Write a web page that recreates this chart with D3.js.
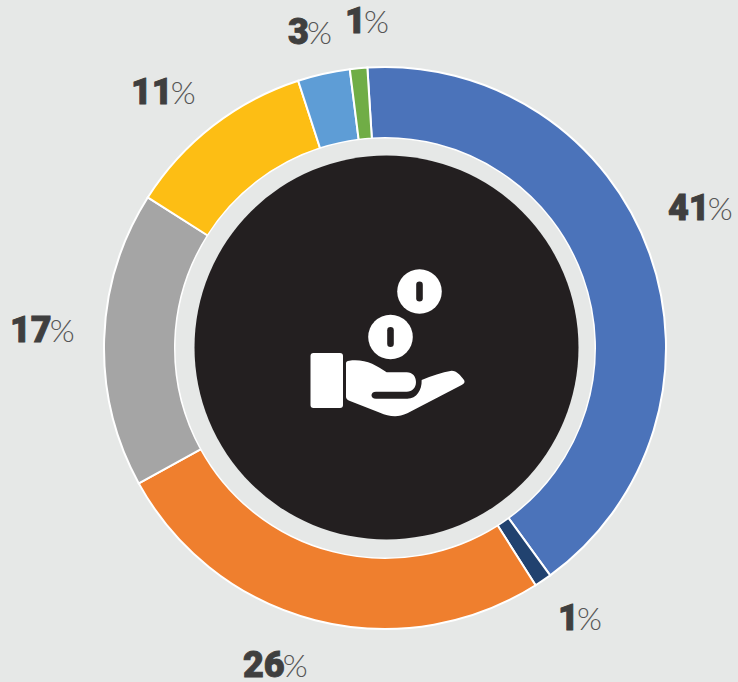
<!DOCTYPE html>
<html><head><meta charset="utf-8">
<script src="https://cdn.jsdelivr.net/npm/d3@7"></script>
<style>html,body{margin:0;padding:0;background:#e6e8e7;overflow:hidden}svg{display:block}</style>
</head><body><svg id="c" width="738" height="682"></svg>
<script>
const categories = ["A","B","C","D","E","F","G"];
const values = [41,1,26,17,11,3,1];
const colors = ["#4b73ba","#21426f","#ef7f2e","#a5a5a5","#fdbe14","#5e9dd6","#70ad46"];
const labelPos = [[668,220],[558,630],[243,677],[10,342],[131,104],[288,44],[345,33]];

const svg = d3.select("#c");
const cx = 385, cy = 348;
const pie = d3.pie().sort(null).value(d=>d).startAngle(-3.6*Math.PI/180).endAngle((360-3.6)*Math.PI/180);
const arc = d3.arc().innerRadius(210).outerRadius(281);
svg.append("g").attr("transform",`translate(${cx},${cy})`)
  .selectAll("path").data(pie(values)).join("path")
  .attr("d",arc).attr("fill",(d,i)=>colors[i]).attr("stroke","#fff").attr("stroke-width",2);
svg.append("circle").attr("cx",cx).attr("cy",cy).attr("r",209.5).attr("fill","#e6e8e7");
svg.append("circle").attr("cx",386.5).attr("cy",347.5).attr("r",192).attr("fill","#231f20");

const labels = svg.append("g").selectAll("text").data(values).join("text")
  .attr("x",(d,i)=>labelPos[i][0]).attr("y",(d,i)=>labelPos[i][1])
  .attr("text-anchor","start").attr("fill","#3f3f3f");
labels.append("tspan").text(d=>d).attr("font-family","Roboto").attr("font-weight",900).attr("font-size",36)
  .attr("stroke","#3f3f3f").attr("stroke-width",0.9);
labels.append("tspan").text("%").attr("font-family","Lato").attr("font-weight",300).attr("font-size",32).attr("dx",-2).attr("fill","#555");

const icon = svg.append("g").attr("fill","#fff");
icon.append("rect").attr("x",310.5).attr("y",353).attr("width",32.5).attr("height",55).attr("rx",3);
[[419.5,291.5],[390.5,337]].forEach(([x,y])=>{
  icon.append("circle").attr("cx",x).attr("cy",y).attr("r",22.3);
  icon.append("rect").attr("x",x-3.3).attr("y",y-10).attr("width",6.6).attr("height",20).attr("rx",3.3).attr("fill","#231f20");
});
icon.append("path").attr("transform","translate(290,250) scale(0.3333)")
  .attr("d","M168 340Q168 332 178 332C225 326 258 345 290 367L350 367C368 367 378 380 378 396C378 414 366 425 350 425L258 425C240 425 240 446 258 446L352 446C380 446 396 420 395 390C425 378 455 366 485 362C500 362 512 376 522 390C526 396 522 402 515 405L352 490C320 505 295 498 270 488L178 452Q168 448 168 440Z");
</script></body></html>
